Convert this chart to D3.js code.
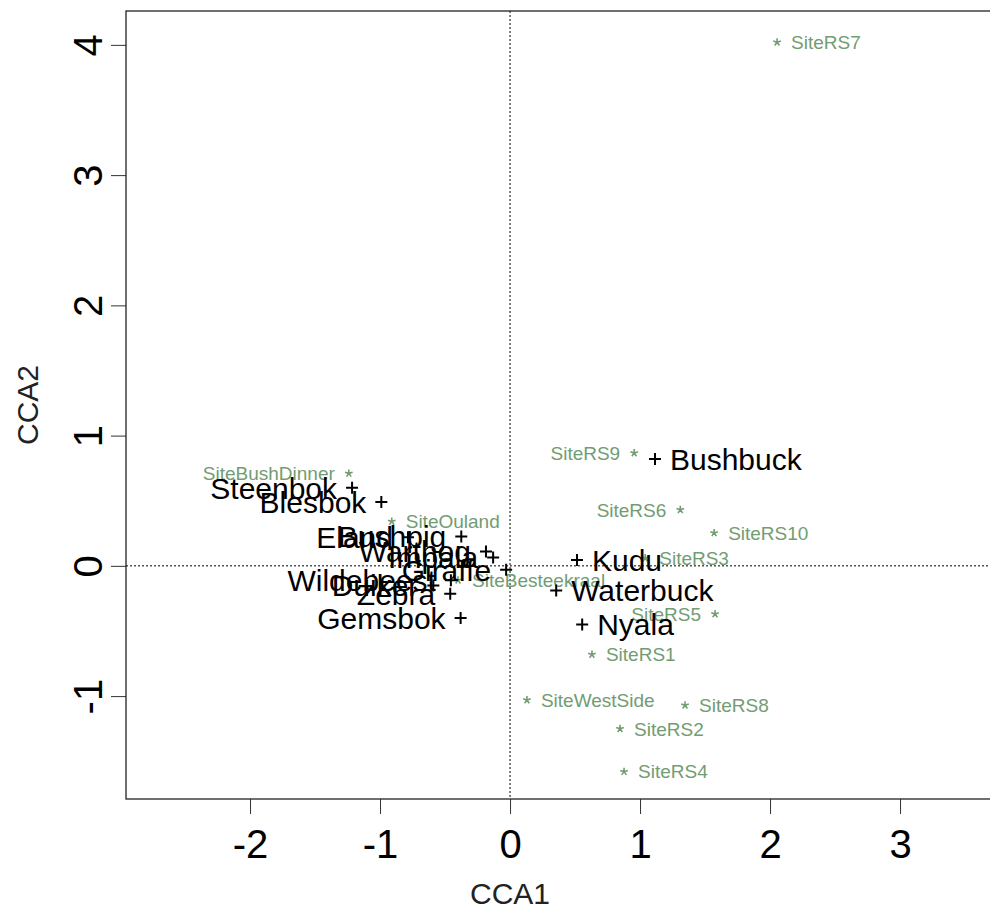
<!DOCTYPE html>
<html>
<head>
<meta charset="utf-8">
<script src="https://cdn.jsdelivr.net/npm/d3@7"></script>
<style>
  html, body { margin: 0; padding: 0; background: #fff; }
  svg { display: block; font-family: "Liberation Sans", Arial, sans-serif; }
</style>
</head>
<body>
<svg id="chart" width="990" height="913"></svg>
<script>
// CCA ordination: species scores (+) and site scores (*)
const speciesNames = ["Steenbok", "Blesbok", "Eland", "Bushpig", "Warthog", "Impala", "Giraffe",
  "Wildebeest", "Duiker", "Zebra", "Gemsbok", "Bushbuck", "Kudu", "Waterbuck", "Nyala"];
const speciesCCA1 = [-1.215, -0.99, -0.785, -0.375, -0.185, -0.13, -0.03,
  -0.455, -0.59, -0.46, -0.38, 1.115, 0.515, 0.355, 0.555];
const speciesCCA2 = [0.60, 0.49, 0.22, 0.225, 0.11, 0.065, -0.03,
  -0.11, -0.15, -0.215, -0.40, 0.82, 0.045, -0.19, -0.45];
const speciesSide = ["left", "left", "left", "left", "left", "left", "left",
  "left", "left", "left", "left", "right", "right", "right", "right"];

const siteNames = ["SiteRS7", "SiteRS9", "SiteRS6", "SiteRS10", "SiteRS3", "SiteRS5", "SiteRS1",
  "SiteWestSide", "SiteRS8", "SiteRS2", "SiteRS4", "SiteBushDinner", "SiteOuland", "SiteBesteekraal"];
const siteCCA1 = [2.054, 0.955, 1.31, 1.57, 1.04, 1.577, 0.63,
  0.13, 1.346, 0.846, 0.877, -1.24, -0.91, -0.40];
const siteCCA2 = [4.02, 0.867, 0.43, 0.253, 0.06, -0.37, -0.68,
  -1.03, -1.07, -1.25, -1.58, 0.71, 0.34, -0.11];
const siteSide = ["right", "left", "left", "right", "right", "left", "right",
  "right", "right", "right", "right", "left", "right", "right"];

const xTicks = [-2, -1, 0, 1, 2, 3];
const yTicks = [-1, 0, 1, 2, 3, 4];
const xTitle = "CCA1";
const yTitle = "CCA2";

const svg = d3.select("#chart");
const plot = { left: 126, top: 11, right: 993, bottom: 799 };

const x = d3.scaleLinear().domain([-2.954, 3.715]).range([plot.left, plot.right]);
const y = d3.scaleLinear().domain([-1.79, 4.26]).range([plot.bottom, plot.top]);

const siteColor = "#729c72";

// reference lines through the origin
svg.append("line")
  .attr("x1", x(0)).attr("x2", x(0)).attr("y1", plot.top).attr("y2", plot.bottom)
  .attr("stroke", "#000").attr("stroke-width", 1).attr("stroke-dasharray", "2,2");
svg.append("line")
  .attr("x1", plot.left).attr("x2", plot.right).attr("y1", y(0)).attr("y2", y(0))
  .attr("stroke", "#000").attr("stroke-width", 1).attr("stroke-dasharray", "2,2");

// axes
const xAxis = d3.axisBottom(x).tickValues(xTicks).tickSize(15).tickPadding(14)
  .tickFormat(d => d < 0 ? "-" + Math.abs(d) : String(d));
const gx = svg.append("g").attr("transform", `translate(0,${plot.bottom})`).call(xAxis);
gx.select(".domain").remove();
gx.selectAll(".tick line").attr("stroke", "#333");
gx.selectAll(".tick text").attr("font-size", 40).attr("fill", "#000")
  .attr("font-family", "Liberation Sans, Arial, sans-serif").attr("dy", "0.75em");

const yAxis = d3.axisLeft(y).tickValues(yTicks).tickSize(15).tickPadding(0)
  .tickFormat(d => d < 0 ? "-" + Math.abs(d) : String(d));
const gy = svg.append("g").attr("transform", `translate(${plot.left},0)`).call(yAxis);
gy.select(".domain").remove();
gy.selectAll(".tick line").attr("stroke", "#333");
gy.selectAll(".tick text")
  .attr("font-size", 40).attr("fill", "#000")
  .attr("font-family", "Liberation Sans, Arial, sans-serif")
  .attr("x", null).attr("dy", null)
  .attr("text-anchor", "middle")
  .attr("transform", "translate(-38,0) rotate(-90)")
  .attr("y", 0).attr("dy", "0.36em");

// plot frame
svg.append("rect")
  .attr("x", plot.left).attr("y", plot.top)
  .attr("width", plot.right - plot.left).attr("height", plot.bottom - plot.top)
  .attr("fill", "none").attr("stroke", "#222").attr("stroke-width", 1.3);

// axis titles
svg.append("text").attr("x", x(0)).attr("y", 904)
  .attr("text-anchor", "middle").attr("font-size", 30).attr("fill", "#222").text(xTitle);
svg.append("text")
  .attr("transform", `translate(38,${(plot.top + plot.bottom) / 2}) rotate(-90)`)
  .attr("text-anchor", "middle").attr("font-size", 30).attr("fill", "#222").text(yTitle);

// site scores
const sites = siteNames.map((n, i) => ({ name: n, cx: siteCCA1[i], cy: siteCCA2[i], side: siteSide[i] }));
const star = r => {
  let p = "";
  for (let k = 0; k < 5; k++) {
    const a = -Math.PI / 2 + k * 2 * Math.PI / 5;
    p += `M0,0L${(r * Math.cos(a)).toFixed(2)},${(r * Math.sin(a)).toFixed(2)}`;
  }
  return p;
};
const gs = svg.append("g");
gs.selectAll("path").data(sites).join("path")
  .attr("transform", d => `translate(${x(d.cx)},${y(d.cy)})`)
  .attr("d", star(4)).attr("stroke", siteColor).attr("stroke-width", 1.6).attr("fill", "none");
gs.selectAll("text").data(sites).join("text")
  .attr("x", d => x(d.cx) + (d.side === "right" ? 14 : -14))
  .attr("y", d => y(d.cy)).attr("dy", "0.36em")
  .attr("text-anchor", d => d.side === "right" ? "start" : "end")
  .attr("font-size", 19).attr("fill", siteColor).text(d => d.name);

// species scores
const species = speciesNames.map((n, i) => ({ name: n, cx: speciesCCA1[i], cy: speciesCCA2[i], side: speciesSide[i] }));
const gp = svg.append("g");
gp.selectAll("path").data(species).join("path")
  .attr("transform", d => `translate(${x(d.cx)},${y(d.cy)})`)
  .attr("d", "M-6,0H6M0,-6V6").attr("stroke", "#000").attr("stroke-width", 2).attr("fill", "none");
gp.selectAll("text").data(species).join("text")
  .attr("x", d => x(d.cx) + (d.side === "right" ? 15 : -15))
  .attr("y", d => y(d.cy)).attr("dy", "0.36em")
  .attr("text-anchor", d => d.side === "right" ? "start" : "end")
  .attr("font-size", 30).attr("fill", "#000").text(d => d.name);
</script>
</body>
</html>
